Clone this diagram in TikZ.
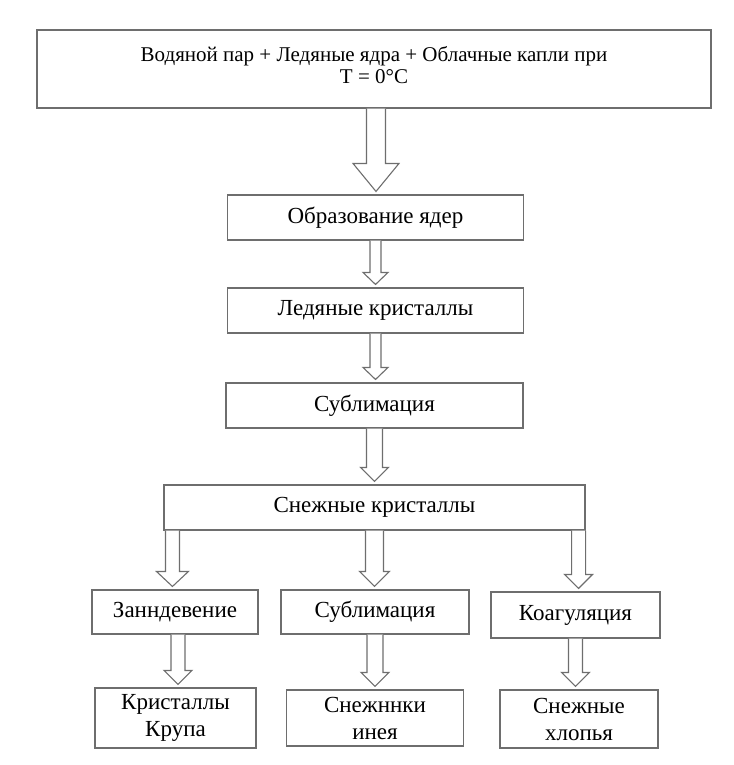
\documentclass[tikz,border=0pt]{standalone}
\usepackage{fontspec}
\setmainfont{Liberation Serif}
\usetikzlibrary{calc}
\definecolor{edge}{HTML}{6E6E6E}
\tikzset{
  stage/.style={draw=edge,line width=1.1pt,fill=white,align=center,inner sep=2pt,
    font=\fontsize{23}{27}\selectfont},
  hollow/.style={draw=edge,line width=1.1pt,line join=miter,fill=white},
}
% block arrow pointing down: start, end, half shaft, half head, head length
\newcommand{\blockdown}[5]{%
  \draw[hollow] let \p1=(#1), \p2=(#2) in
    (\x1-#3pt,\y1) -- (\x1-#3pt,\y2+#5pt+3pt) -- (\x1-#4pt,\y2+#5pt+3pt) -- (\x1,\y2+3pt)
    -- (\x1+#4pt,\y2+#5pt+3pt) -- (\x1+#3pt,\y2+#5pt+3pt) -- (\x1+#3pt,\y1);}

\begin{document}
\begin{tikzpicture}[x=1pt,y=-1pt]
  \useasboundingbox (0,0) rectangle (733,765);

  % chain of stages
  \node[stage,minimum width=674pt,minimum height=78pt,font=\fontsize{21}{22}\selectfont] (src) at (374,69)
    {Водяной пар + Ледяные ядра + Облачные капли при\\T = 0°C\\[-14pt]};
  \node[stage,minimum width=296pt,minimum height=45pt] (nuc) at (375.5,217.5) {Образование ядер};
  \node[stage,minimum width=296pt,minimum height=45pt] (ice) at (375.5,310.5) {Ледяные кристаллы};
  \node[stage,minimum width=297pt,minimum height=45pt] (sub) at (374.5,405.5) {Сублимация};
  \node[stage,minimum width=421pt,minimum height=45pt] (snow) at (374.5,507.5) {Снежные кристаллы};

  % three branches
  \node[stage,minimum width=166pt,minimum height=44pt] (frz) at (175,612) {Занндевение};
  \node[stage,minimum width=188pt,minimum height=44pt] (sub2) at (375,612) {Сублимация};
  \node[stage,minimum width=169pt,minimum height=46pt] (coag) at (575.5,615) {Коагуляция};

  \node[stage,minimum width=161pt,minimum height=60pt] (grau) at (175.5,718) {Кристаллы\\Крупа};
  \node[stage,minimum width=177pt,minimum height=56pt] (rime) at (375,718) {Снежннки\\инея};
  \node[stage,minimum width=158pt,minimum height=58pt] (flak) at (579,719) {Снежные\\хлопья};

  % arrows
  \blockdown{$(src.south)+(2,0)$}{nuc.north}{9.5}{23}{28}
  \blockdown{nuc.south}{ice.north}{5.5}{12.5}{12}
  \blockdown{ice.south}{sub.north}{5.5}{12.5}{12}
  \blockdown{sub.south}{snow.north}{8}{14}{14}
  \blockdown{$(snow.south west)+(9,0)$}{frz.north}{7}{16}{15}
  \blockdown{snow.south}{sub2.north}{9}{15}{15}
  \blockdown{$(snow.south east)+(-7,0)$}{coag.north}{7}{14}{14}
  \blockdown{$(frz.south)+(3,0)$}{grau.north}{7}{14}{14}
  \blockdown{sub2.south}{rime.north}{8}{14}{14}
  \blockdown{coag.south}{flak.north}{7}{14}{14}
\end{tikzpicture}
\end{document}
